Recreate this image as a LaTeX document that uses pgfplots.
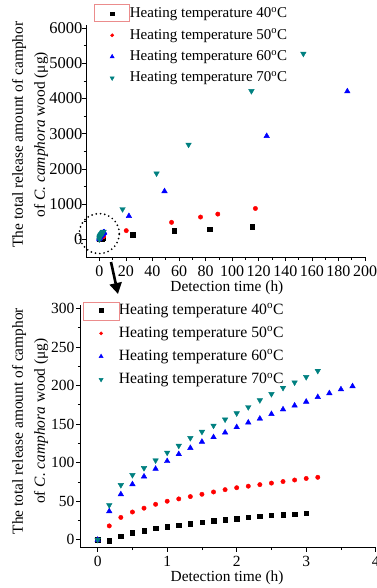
\documentclass[border=0pt]{standalone}
\usepackage{pgfplots}
\pgfplotsset{compat=1.18}
\usepackage{pgfplotstable}
\usepackage{fontspec}
\setmainfont{Liberation Serif}
\usetikzlibrary{arrows.meta}
\definecolor{tealc}{RGB}{0,128,128}
\definecolor{selred}{RGB}{235,140,140}

\pgfplotstableread{
t y
0 0
0.1667 -1
0.3333 5
0.5 9
0.6667 12
0.8333 15
1.0 17
1.1667 19
1.3333 21
1.5 23
1.6667 24.5
1.8333 26
2.0 27.5
2.1667 29
2.3333 30.5
2.5 31.5
2.6667 32.5
2.8333 33.5
3.0 34.5
25 136
56.6 249
83 296
115 362
}\dataA
\pgfplotstableread{
t y
0 0
0.1667 18
0.3333 29
0.5 36
0.6667 41
0.8333 46
1.0 50
1.1667 53
1.3333 56
1.5 59
1.6667 62
1.8333 65
2.0 67.5
2.1667 69.5
2.3333 71.5
2.5 73.5
2.6667 75.5
2.8333 77.5
3.0 79.5
3.1667 81
20.3 249
54.4 484
76.2 634
89.2 718
117.5 878
}\dataB
\pgfplotstableread{
t y
0 0
0.1667 37
0.3333 59
0.5 72
0.6667 82
0.8333 92
1.0 102
1.1667 111
1.3333 119
1.5 127
1.6667 133
1.8333 139
2.0 146
2.1667 152
2.3333 157
2.5 163
2.6667 169
2.8333 174
3.0 179
3.1667 185
3.3333 190
3.5 195
3.6667 199
22.3 662
49.1 1366
126 2934
186.7 4202
}\dataC
\pgfplotstableread{
t y
0 0
0.1667 45
0.3333 71
0.5 84
0.6667 93
0.8333 103
1.0 113
1.1667 122
1.3333 132
1.5 140
1.6667 148
1.8333 156
2.0 164
2.1667 172
2.3333 181
2.5 189
2.6667 197
2.8333 204
3.0 211
3.1667 219
17.5 859
43.1 1873
67.2 2690
114.5 4211
153.6 5272
}\dataD

\pgfplotsset{
  mystyle/.style={
    scale only axis,
    axis x line*=bottom, axis y line*=left,
    tick align=outside,
    major tick length=4pt, minor tick length=2.5pt,
    tick style={black, line width=0.6pt},
    axis line style={line width=0.7pt},
    minor x tick num=1, minor y tick num=1,
    font=\fontsize{15.4}{22}\selectfont,
    /pgf/number format/assume math mode=true,
    /pgf/number format/set thousands separator={},
    scaled ticks=false,
    legend cell align=left,
    legend style={draw=none, fill=none, anchor=north west,
      inner xsep=0pt, inner ysep=0pt,
      nodes={inner sep=0.5pt, text height=11pt, text depth=3.5pt}},
  },
  myleg/.style={legend image code/.code={\draw[every mark/.append style={scale=0.75}] plot coordinates {(0pt,0pt)}; \fill[opacity=0] (-4pt,-1pt) rectangle (17pt,1pt);}},
  sA/.style={only marks, mark=square*, mark size=2.2pt, black, myleg},
  sB/.style={only marks, mark=*, mark size=2.2pt, red, myleg},
  sD/.style={only marks, mark=triangle*, mark size=3.2pt, tealc, mark options={rotate=180}, myleg},
  sC/.style={only marks, mark=triangle*, mark size=3.2pt, blue, myleg},
}

\begin{document}
\begin{tikzpicture}
\useasboundingbox (0pt,0pt) rectangle (376pt,-588pt);
% top axis
\begin{axis}[mystyle,
  at={(86pt,-257pt)}, anchor=south west,
  width=279pt, height=231.8pt,
  xmin=-10, xmax=200, ymin=-500, ymax=6080,
  xtick={0,20,...,200}, ytick={0,1000,...,6000},
  xticklabel={\fontsize{16}{18}\selectfont\pgfmathprintnumber{\tick}},
  yticklabel={\fontsize{16.5}{18}\selectfont\pgfmathprintnumber{\tick}},
  xticklabel style={yshift=-1.5pt},
  yticklabel style={xshift=4pt},
  clip=false,
  xlabel={Detection time (h)},
  xlabel style={at={(axis description cs:0.505,-0.134)}, anchor=center},
  ylabel={The total release amount of camphor\\of \textit{C. camphora} wood (μg)},
  ylabel style={at={(axis description cs:-0.200,0.528)}, anchor=center, align=center},
  legend style={at={(axis description cs:0.078,1.083)}, row sep=5.9pt,
    font=\fontsize{15}{18}\selectfont},
]
\addplot[sA] table[x=t,y=y] {\dataA};
\addplot[sB] table[x=t,y=y] {\dataB};
\addplot[sC] table[x=t,y=y] {\dataC};
\addplot[sD] table[x=t,y=y] {\dataD};
\legend{Heating temperature 40\textsuperscript{o}C,Heating temperature 50\textsuperscript{o}C,Heating temperature 60\textsuperscript{o}C,Heating temperature 70\textsuperscript{o}C}
\draw[line width=1.9pt, dash pattern=on 0pt off 4.3pt, line cap=round] (axis cs:0,165) circle[radius=20pt];
\end{axis}
% bottom axis
\begin{axis}[mystyle,
  at={(80.3pt,-547.5pt)}, anchor=south west,
  width=295.4pt, height=243pt,
  xmin=-0.25, xmax=4, ymin=-10, ymax=305,
  xtick={0,1,...,4}, ytick={0,50,...,300},
  xticklabel={\fontsize{15.5}{18}\selectfont\pgfmathprintnumber{\tick}},
  yticklabel={\fontsize{15.5}{18}\selectfont\pgfmathprintnumber{\tick}},
  xticklabel style={yshift=-1.5pt},
  yticklabel style={xshift=1.5pt},
  xlabel={Detection time (h)},
  xlabel style={at={(axis description cs:0.497,-0.123)}, anchor=center},
  ylabel={The total release amount of camphor\\of \textit{C. camphora} wood (μg)},
  ylabel style={at={(axis description cs:-0.170,0.52)}, anchor=center, align=center},
  legend style={at={(axis description cs:0.0555,1.009)}, row sep=7.6pt,
    font=\fontsize{15.7}{18}\selectfont},
]
\addplot[sA] table[x=t,y=y] {\dataA};
\addplot[sB] table[x=t,y=y] {\dataB};
\addplot[sC] table[x=t,y=y] {\dataC};
\addplot[sD] table[x=t,y=y] {\dataD};
\legend{Heating temperature 40\textsuperscript{o}C,Heating temperature 50\textsuperscript{o}C,Heating temperature 60\textsuperscript{o}C,Heating temperature 70\textsuperscript{o}C}
\end{axis}
% selection rectangles and arrow
\draw[selred, line width=0.6pt] (94pt,-4pt) rectangle (129pt,-21.7pt);
\draw[selred, line width=0.6pt] (83.3pt,-302.3pt) rectangle (119.3pt,-320pt);
\draw[line width=2.6pt, -{Triangle[length=11pt, width=12pt]}] (111pt,-262pt) -- (118pt,-294pt);
\end{tikzpicture}
\end{document}
